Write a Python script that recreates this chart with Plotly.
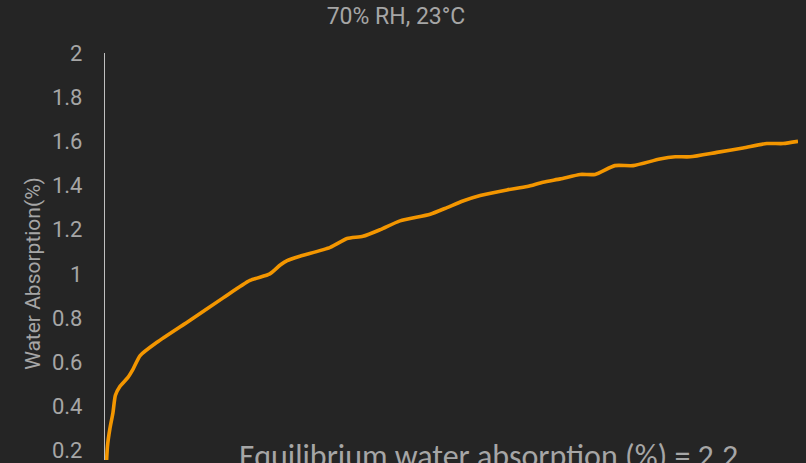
import plotly.graph_objects as go

# time (arbitrary units, x-axis not labelled in the visible part)
time_h = [0, 0.5, 1.0, 1.6, 2.1, 3.0, 4.6, 5.7, 7.1, 10.5, 17.2, 23.8, 29.3, 33.3, 35.4,
          36.8, 39.4, 45.5, 48.9, 52.1, 55.6, 59.6, 65.7, 69.1, 72.3, 75.8, 81.2, 85.3,
          88.5, 92.0, 96.0, 99.0, 103.0, 106.7, 112.1, 115.2, 118.2, 123.6, 128.9,
          133.7, 137.0, 140.0]
absorption = [0.0, 0.22, 0.30, 0.37, 0.45, 0.49, 0.53, 0.57, 0.63, 0.69, 0.79, 0.89, 0.97,
              1.00, 1.04, 1.06, 1.08, 1.12, 1.16, 1.17, 1.20, 1.24, 1.27, 1.30, 1.33,
              1.355, 1.38, 1.395, 1.415, 1.43, 1.45, 1.45, 1.49, 1.49, 1.52, 1.53, 1.53,
              1.55, 1.57, 1.59, 1.59, 1.60]
y_ticks = [0.2, 0.4, 0.6, 0.8, 1.0, 1.2, 1.4, 1.6, 1.8, 2.0]
y_tick_labels = ["0.2", "0.4", "0.6", "0.8", "1", "1.2", "1.4", "1.6", "1.8", "2"]

title_text = "70% RH, 23°C"
y_title = "Water Absorption(%)"
note_text = "Equilibrium water absorption (%) = 2.2"

BG = "#252525"
TXT = "#a6a6a6"

fig = go.Figure()
fig.add_trace(go.Scatter(
    x=time_h, y=absorption, mode="lines",
    line=dict(color="#f39600", width=3.6, shape="spline", smoothing=0.6),
    hoverinfo="skip", showlegend=False,
))

W, H = 806, 463
L, R, T, B = 105, 8, 53, 0
PW, PH = W - L - R, H - T - B


def px_x(px):
    return (px - L) / PW


def px_y(py):
    return (H - B - py) / PH


fig.update_layout(
    width=W, height=H,
    paper_bgcolor=BG, plot_bgcolor=BG,
    margin=dict(l=L, r=R, t=T, b=B),
    title=dict(text=title_text, x=396 / W, xref="container", xanchor="center",
               y=1 - 16 / H, yref="container", yanchor="middle",
               font=dict(family="Roboto", size=23, color=TXT)),
    xaxis=dict(range=[0, 140], visible=False, showgrid=False, zeroline=False),
    yaxis=dict(range=[0.157, 2.0], tickvals=y_ticks, ticktext=y_tick_labels,
               showgrid=False, zeroline=False, showline=True, linecolor="#bfbfbf",
               linewidth=1.3, ticks="", ticklabelstandoff=17,
               ticklabeloverflow="allow",
               tickfont=dict(family="Roboto", size=22, color=TXT)),
    font=dict(family="Roboto", color=TXT),
)

fig.add_annotation(
    text=y_title, textangle=-90, xref="paper", yref="paper",
    x=px_x(33), y=px_y(275.5),
    xanchor="center", yanchor="middle", showarrow=False,
    font=dict(family="Roboto", size=21, color=TXT),
)
fig.add_annotation(
    text=note_text, xref="paper", yref="paper",
    x=px_x(237), y=px_y(438), xanchor="left", yanchor="top",
    showarrow=False,
    font=dict(family="Carlito, Calibri, Lato", size=32, color=TXT),
)

fig.write_html(
    "out.html",
    config={"displayModeBar": False},
    post_script="document.body.style.margin='0';"
                "document.documentElement.style.overflow='hidden';",
)
